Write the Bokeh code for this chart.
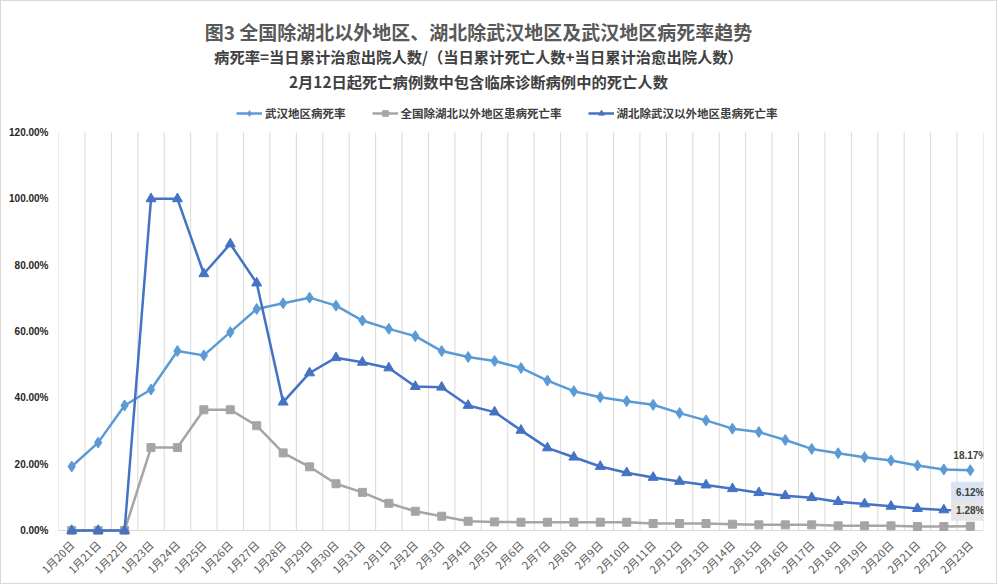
import math
from bokeh.plotting import figure
from bokeh.models import Range1d, FixedTicker, Label, Legend, LegendItem, ColumnDataSource
from bokeh.embed import file_html
from bokeh.resources import INLINE

# ---------------- data ----------------
dates = ["1月20日", "1月21日", "1月22日", "1月23日", "1月24日", "1月25日", "1月26日",
         "1月27日", "1月28日", "1月29日", "1月30日", "1月31日",
         "2月1日", "2月2日", "2月3日", "2月4日", "2月5日", "2月6日", "2月7日", "2月8日",
         "2月9日", "2月10日", "2月11日", "2月12日", "2月13日", "2月14日", "2月15日",
         "2月16日", "2月17日", "2月18日", "2月19日", "2月20日", "2月21日", "2月22日", "2月23日"]

wuhan = [19.3, 26.5, 37.7, 42.5, 54.1, 52.8, 59.8, 66.8, 68.5, 70.2, 67.8, 63.3,
         60.8, 58.6, 54.1, 52.3, 51.1, 49.0, 45.2, 42.0, 40.2, 39.0, 37.9, 35.4,
         33.2, 30.7, 29.7, 27.3, 24.6, 23.3, 22.1, 21.1, 19.6, 18.4, 18.17]

national = [0, 0, 0, 25.0, 25.0, 36.4, 36.4, 31.6, 23.4, 19.2, 14.1, 11.5,
            8.2, 5.8, 4.3, 2.8, 2.6, 2.5, 2.5, 2.5, 2.5, 2.5, 2.1, 2.1,
            2.1, 1.9, 1.7, 1.7, 1.7, 1.4, 1.4, 1.4, 1.2, 1.2, 1.28]

hubei = [0, 0, 0, 100, 100, 77.4, 86.4, 74.6, 38.7, 47.5, 52.1, 50.7,
         49.0, 43.4, 43.2, 37.7, 35.7, 30.2, 24.9, 22.1, 19.3, 17.4, 16.0, 14.8,
         13.7, 12.6, 11.4, 10.5, 9.9, 8.7, 8.0, 7.3, 6.6, 6.2, 6.12]

series_names = ["武汉地区病死率", "全国除湖北以外地区患病死亡率", "湖北除武汉以外地区患病死亡率"]
y_ticks = [0, 20, 40, 60, 80, 100, 120]

title_text = "图3 全国除湖北以外地区、湖北除武汉地区及武汉地区病死率趋势"
sub1_text = "病死率=当日累计治愈出院人数/（当日累计死亡人数+当日累计治愈出院人数）"
sub2_text = "2月12日起死亡病例数中包含临床诊断病例中的死亡人数"

# ---------------- layout geometry ----------------
W, H = 997, 584
FL, FR, FT, FB = 57, 982, 0, 539          # frame edges (element px)
Y0_PX, Y120_PX = 529, 131                  # pixel of 0% and 120%
s = (Y0_PX - Y120_PX) / 120.0
n = len(dates)
xs = list(range(n))
x_lo, x_hi = -0.5, n - 0.5
y_lo = -(FB - Y0_PX) / s
y_hi = (Y0_PX - FT) / s
cat_px = (FR - FL) / n


def px_x(px):
    return x_lo + (px - FL) / cat_px


def px_y(py):
    return (Y0_PX - py) / s


CJK = "Noto Sans CJK SC"
c_wuhan, c_nat, c_hubei = "#5B9BD5", "#A5A5A5", "#4472C4"
grid_c = "#D9D9D9"

p = figure(width=W, height=H, output_backend="svg", toolbar_location=None,
           x_range=Range1d(x_lo, x_hi), y_range=Range1d(y_lo, y_hi),
           min_border_left=FL, min_border_right=W - FR, min_border_top=FT,
           min_border_bottom=H - FB, background_fill_color="white",
           border_fill_color="white", outline_line_color=None)
p.styles = {"border": "1px solid #D9D9D9"}
p.xgrid.visible = False
p.ygrid.visible = False

# vertical grid lines at category boundaries, and baseline
bounds = [i - 0.5 for i in range(n + 1)]
p.segment(x0=bounds, y0=[0] * len(bounds), x1=bounds, y1=[y_ticks[-1]] * len(bounds),
          line_color=grid_c, line_width=1)
p.segment(x0=[x_lo], y0=[0], x1=[x_hi], y1=[0], line_color=grid_c, line_width=1)

# axes
p.xaxis.ticker = FixedTicker(ticks=xs)
p.xaxis.major_label_overrides = {i: d for i, d in enumerate(dates)}
p.xaxis.major_label_orientation = math.pi / 4
p.xaxis.axis_line_color = None
p.xaxis.major_tick_line_color = None
p.xaxis.minor_tick_line_color = None
p.xaxis.major_tick_out = 0
p.xaxis.major_tick_in = 0
p.xaxis.minor_tick_out = 0
p.xaxis.major_label_text_font = CJK
p.xaxis.major_label_text_font_size = "11px"
p.xaxis.major_label_text_color = "#595959"
p.xaxis.major_label_standoff = 2

p.yaxis.ticker = FixedTicker(ticks=y_ticks)
p.yaxis.major_label_overrides = {t: f"{t:.2f}%" for t in y_ticks}
p.yaxis.axis_line_color = None
p.yaxis.major_tick_line_color = None
p.yaxis.minor_tick_line_color = None
p.yaxis.major_tick_out = 0
p.yaxis.major_tick_in = 0
p.yaxis.minor_tick_out = 0
p.yaxis.major_label_text_font = "Liberation Sans"
p.yaxis.major_label_text_font_style = "bold"
p.yaxis.major_label_text_font_size = "10px"
p.yaxis.major_label_text_color = "#262626"
p.yaxis.major_label_standoff = 10

src = ColumnDataSource(dict(x=xs, wuhan=wuhan, national=national, hubei=hubei))

l1 = p.line("x", "wuhan", source=src, line_color=c_wuhan, line_width=2.5)
m1 = p.scatter("x", "wuhan", source=src, marker="diamond", size=11,
               fill_color=c_wuhan, line_color=c_wuhan)
l2 = p.line("x", "national", source=src, line_color=c_nat, line_width=2.5)
m2 = p.scatter("x", "national", source=src, marker="square", size=8,
               fill_color=c_nat, line_color=c_nat)
l3 = p.line("x", "hubei", source=src, line_color=c_hubei, line_width=2.5)
m3 = p.scatter("x", "hubei", source=src, marker="triangle", size=10,
               fill_color=c_hubei, line_color=c_hubei)

# data labels at last point
last = n - 1
lab_kw = dict(text_align="center", text_baseline="middle", text_font="Liberation Sans",
              text_font_style="bold", text_font_size="10px", text_color="#404040")
p.add_layout(Label(x=last, y=wuhan[last], text=f"{wuhan[last]:.2f}%", y_offset=15, **lab_kw))
p.add_layout(Label(x=last, y=hubei[last], text=f"{hubei[last]:.2f}%", y_offset=18,
                   background_fill_color="#DAE3F3", padding=5, **lab_kw))
p.add_layout(Label(x=last, y=national[last], text=f"{national[last]:.2f}%", y_offset=16,
                   background_fill_color="#E7E6E6", padding=5, **lab_kw))

# titles
xc = px_x(477)
p.add_layout(Label(x=xc, y=px_y(30), text=title_text, text_align="center",
                   text_baseline="middle", text_font=CJK, text_font_style="bold",
                   text_font_size="19px", text_color="#595959"))
p.add_layout(Label(x=xc, y=px_y(54), text=sub1_text, text_align="center",
                   text_baseline="middle", text_font=CJK, text_font_style="bold",
                   text_font_size="15.3px", text_color="#404040"))
p.add_layout(Label(x=xc, y=px_y(79), text=sub2_text, text_align="center",
                   text_baseline="middle", text_font=CJK, text_font_style="bold",
                   text_font_size="15.3px", text_color="#404040"))

legend = Legend(items=[LegendItem(label=series_names[0], renderers=[l1, m1]),
                       LegendItem(label=series_names[1], renderers=[l2, m2]),
                       LegendItem(label=series_names[2], renderers=[l3, m3])],
                orientation="horizontal", location=(178, FB - 120),
                background_fill_alpha=0, border_line_color=None,
                padding=0, margin=0, spacing=26, glyph_width=26, glyph_height=14,
                label_standoff=3, label_text_font=CJK, label_text_font_style="bold",
                label_text_font_size="11.5px", label_text_color="#404040",
                label_height=14)
p.add_layout(legend)

open("out.html", "w").write(file_html(p, INLINE))
